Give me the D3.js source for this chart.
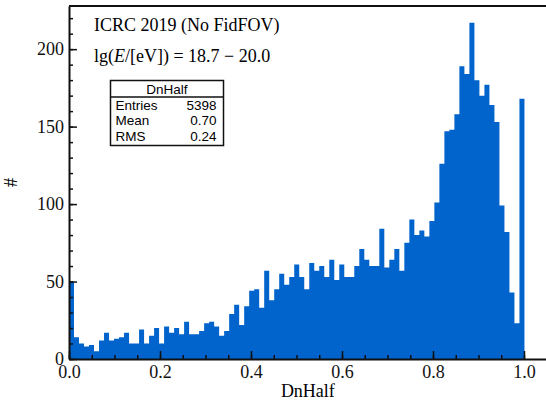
<!DOCTYPE html>
<html>
<head>
<meta charset="utf-8">
<script src="https://cdn.jsdelivr.net/npm/d3@7"></script>
<style>
  body { margin: 0; background: #fff; }
  svg { display: block; }
</style>
</head>
<body>
<div id="chart"></div>
<script>
// histogram: bins of 0.011 starting at 0 (counts)
const binWidth = 0.011;
const counts = [
  50, 14, 10, 8, 9, 5, 12, 17, 12, 13,
  14, 17, 10, 10, 19, 10, 15, 20, 10, 21,
  17, 20, 16, 24, 16, 16, 18, 23, 24, 21,
  15, 18, 29, 35, 22, 34, 44, 45, 33, 57,
  38, 45, 55, 48, 53, 61, 53, 45, 62, 57,
  60, 53, 64, 51, 61, 53, 53, 60, 71, 64,
  60, 60, 84, 59, 64, 71, 57, 75, 90, 80,
  83, 79, 89, 101, 126, 147, 148, 158, 189, 184,
  217, 180, 170, 177, 164, 153, 99, 82, 43, 23,
  168, 0, 0, 0, 0
];
const xTicks = [0, 0.2, 0.4, 0.6, 0.8, 1.0];
const yTicks = [0, 50, 100, 150, 200];
const statsRows = [["Entries", "5398"], ["Mean", "0.70"], ["RMS", "0.24"]];

const margin = { top: 6, left: 69 };
const width = 477.75;   // frame ends at the right edge of the picture
const height = 353;

const svg = d3.select("#chart")
    .append("svg")
    .attr("width", 546)
    .attr("height", 401);

const g = svg.append("g")
    .attr("transform", `translate(${margin.left}, ${margin.top})`);

const x = d3.scaleLinear().domain([0, 1.05]).range([0, width]);
const y = d3.scaleLinear().domain([0, 227.85]).range([height, 0]);

// bars as one stepped area
const pts = counts.map((c, i) => ({ x: i * binWidth, c: c }));
pts.push({ x: counts.length * binWidth, c: counts[counts.length - 1] });

const area = d3.area()
    .curve(d3.curveStepAfter)
    .x(d => x(d.x))
    .y0(y(0))
    .y1(d => y(d.c));

g.append("path")
    .datum(pts)
    .attr("fill", "#0064cc")
    .attr("stroke", "none")
    .attr("d", area);

// frame
g.append("line").attr("x1", 0).attr("x2", width + 2).attr("y1", 0).attr("y2", 0)
    .attr("stroke", "#111").attr("stroke-width", 2);

// minor ticks
g.append("g")
    .call(d3.axisLeft(y).tickValues(d3.range(0, 221, 10)).tickSizeInner(-4).tickSizeOuter(0).tickFormat(""))
    .call(a => a.select(".domain").remove())
    .selectAll("line").attr("stroke", "#111").attr("stroke-width", 1.5);

g.append("g")
    .attr("transform", `translate(0, ${height})`)
    .call(d3.axisBottom(x).tickValues(d3.range(0, 1.05, 0.05)).tickSizeInner(-4).tickSizeOuter(0).tickFormat(""))
    .call(a => a.select(".domain").remove())
    .selectAll("line").attr("stroke", "#111").attr("stroke-width", 1.5);

// major ticks + labels
const yAxis = g.append("g")
    .call(d3.axisLeft(y).tickValues(yTicks).tickSizeInner(-8).tickSizeOuter(0).tickPadding(5));
yAxis.select(".domain").attr("stroke", "#111").attr("stroke-width", 2);
yAxis.selectAll("line").attr("stroke", "#111").attr("stroke-width", 1.5);
yAxis.selectAll("text")
    .style("font-family", "Liberation Serif")
    .style("font-size", "18px")
    .attr("fill", "#111");

const xAxis = g.append("g")
    .attr("transform", `translate(0, ${height})`)
    .call(d3.axisBottom(x).tickValues(xTicks).tickSizeInner(-8).tickSizeOuter(0).tickPadding(6).tickFormat(d3.format(".1f")));
xAxis.select(".domain").attr("stroke", "#111").attr("stroke-width", 2);
xAxis.selectAll("line").attr("stroke", "#111").attr("stroke-width", 1.5);
xAxis.selectAll("text")
    .style("font-family", "Liberation Serif")
    .style("font-size", "18px")
    .attr("fill", "#111");

// axis titles (centred)
g.append("text")
    .attr("x", width / 2)
    .attr("y", height + 38)
    .attr("text-anchor", "middle")
    .style("font-family", "Liberation Serif")
    .style("font-size", "18px")
    .text("DnHalf");

g.append("text")
    .attr("transform", `translate(${17 - margin.left}, ${height / 2}) rotate(-90)`)
    .attr("text-anchor", "middle")
    .style("font-family", "Liberation Serif")
    .style("font-size", "18px")
    .text("#");

// labels in the top left
svg.append("text")
    .attr("x", 94)
    .attr("y", 31)
    .style("font-family", "Liberation Serif")
    .style("font-size", "18px")
    .text("ICRC 2019 (No FidFOV)");

const lg = svg.append("text")
    .attr("x", 94)
    .attr("y", 62)
    .style("font-family", "Liberation Serif")
    .style("font-size", "18px");
lg.append("tspan").text("lg(");
lg.append("tspan").style("font-style", "italic").text("E");
lg.append("tspan").text("/[eV]) = 18.7 \u2212 20.0");

// stats box
const box = svg.append("g").attr("transform", "translate(110.5, 80.5)");
box.append("rect")
    .attr("width", 113).attr("height", 65)
    .attr("fill", "#fff").attr("stroke", "#111").attr("stroke-width", 1.5);
box.append("line")
    .attr("x1", 0).attr("x2", 113).attr("y1", 16.5).attr("y2", 16.5)
    .attr("stroke", "#111").attr("stroke-width", 1.5);
box.append("text")
    .attr("x", 56.5).attr("y", 13)
    .attr("text-anchor", "middle")
    .style("font-family", "Liberation Sans")
    .style("font-size", "13.5px")
    .text("DnHalf");
box.selectAll("text.lab")
    .data(statsRows)
    .enter()
    .append("text")
    .attr("class", "lab")
    .attr("x", 5)
    .attr("y", (d, i) => 29.5 + i * 15.3)
    .style("font-family", "Liberation Sans")
    .style("font-size", "13.5px")
    .text(d => d[0]);
box.selectAll("text.val")
    .data(statsRows)
    .enter()
    .append("text")
    .attr("class", "val")
    .attr("x", 106)
    .attr("y", (d, i) => 29.5 + i * 15.3)
    .attr("text-anchor", "end")
    .style("font-family", "Liberation Sans")
    .style("font-size", "13.5px")
    .text(d => d[1]);
</script>
</body>
</html>
